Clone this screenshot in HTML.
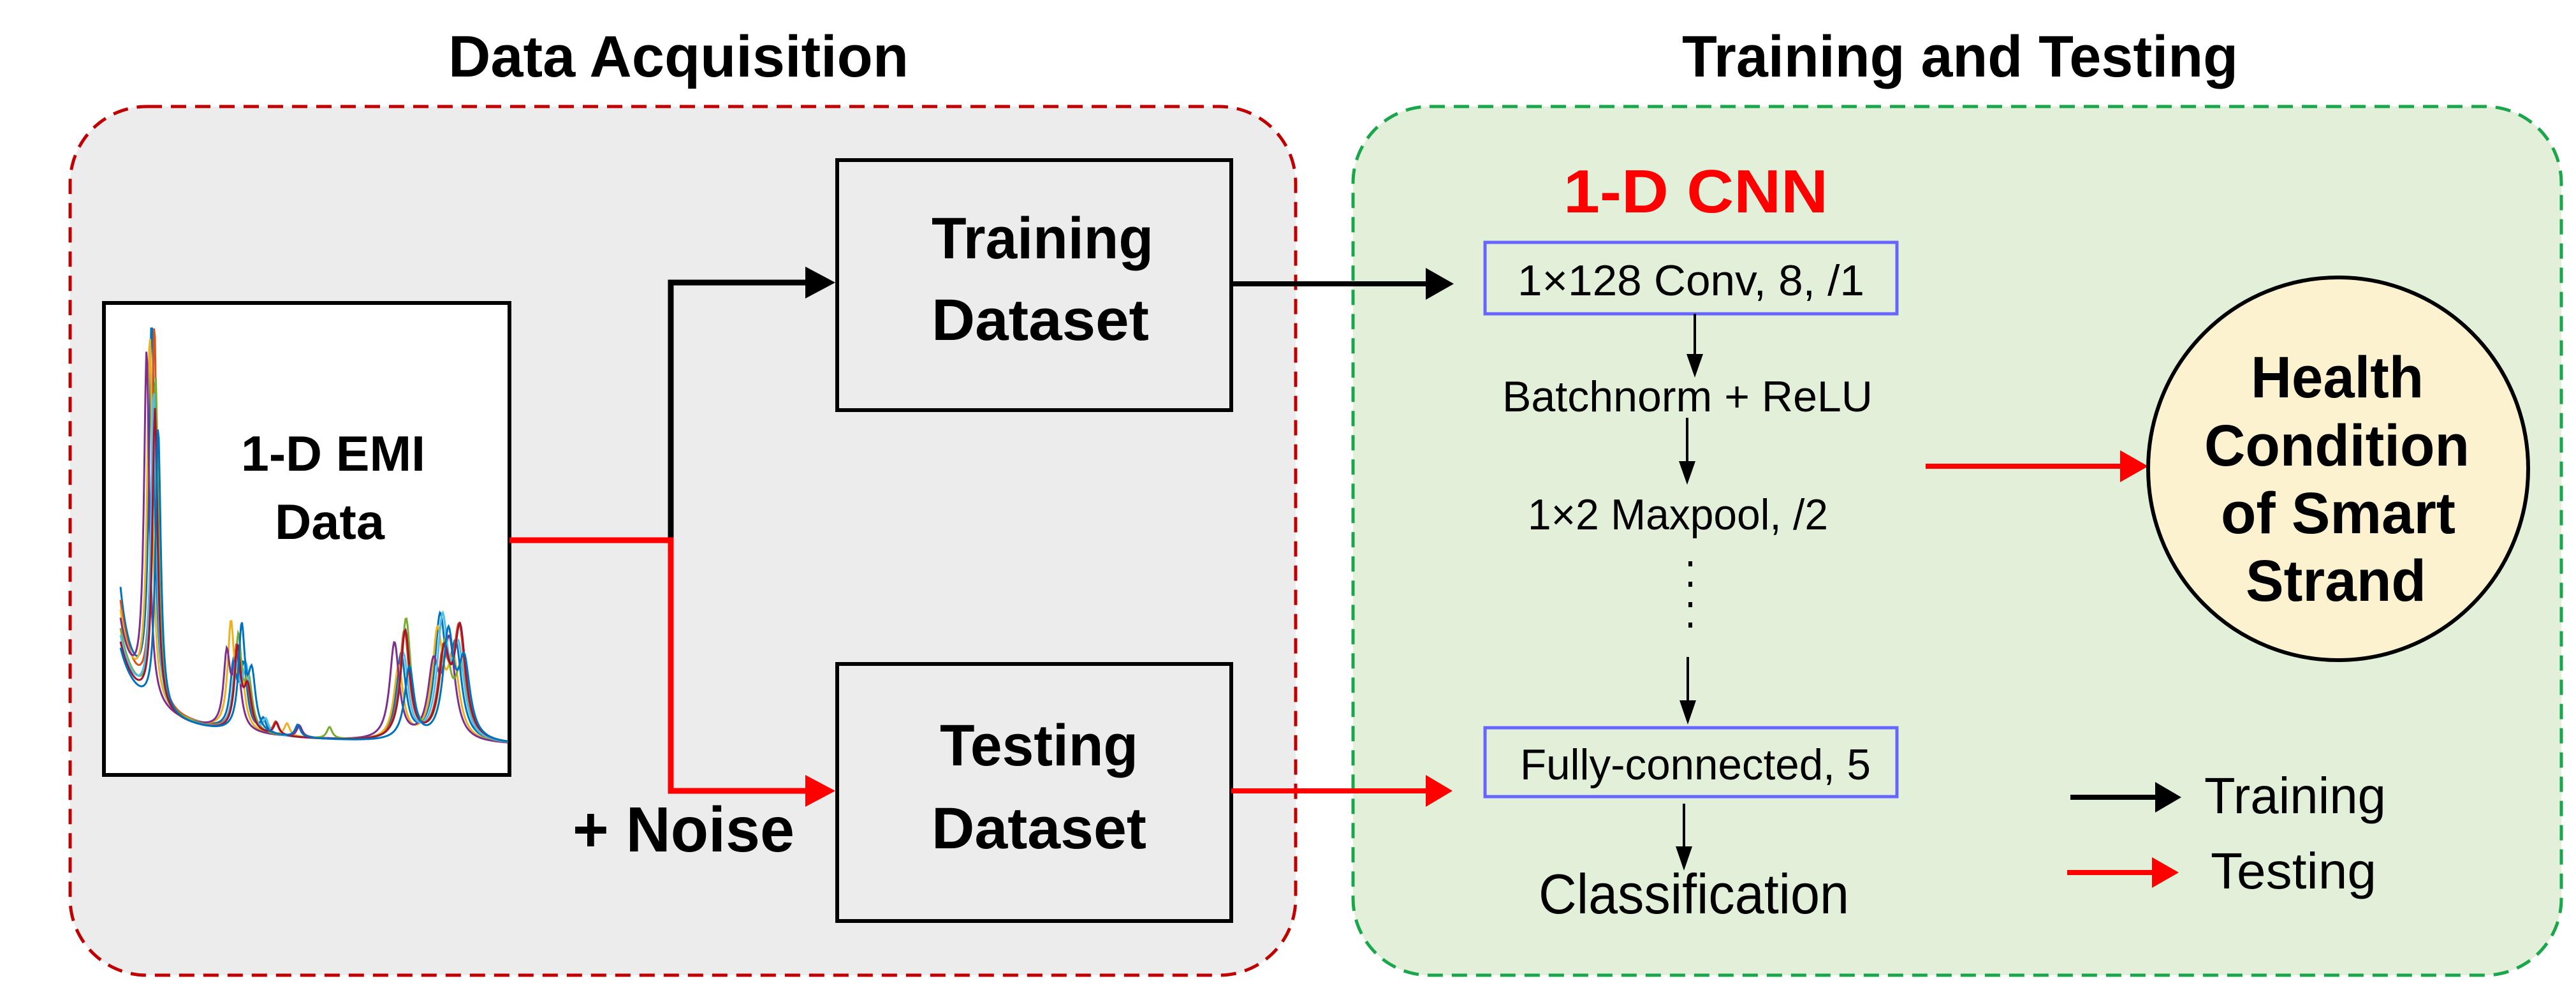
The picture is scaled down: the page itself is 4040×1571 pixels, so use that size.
<!DOCTYPE html>
<html><head><meta charset="utf-8"><style>
html,body{margin:0;padding:0;background:#fff}
svg{display:block}
text{font-family:"Liberation Sans",sans-serif}
.b{font-weight:bold}
</style></head><body>
<svg id="s" width="4040" height="1571" viewBox="0 0 4040 1571" xmlns="http://www.w3.org/2000/svg">
<rect x="110" y="167" width="1922" height="1362" rx="120" fill="#ececec" stroke="#c00000" stroke-width="5" stroke-dasharray="24,14"/>
<rect x="2122" y="167" width="1895" height="1362" rx="120" fill="#e2efd9" stroke="#1aa64a" stroke-width="5" stroke-dasharray="24,14"/>
<text class="b" x="703" y="120" font-size="92" textLength="722" lengthAdjust="spacingAndGlyphs">Data Acquisition</text>
<text class="b" x="2638" y="120" font-size="92" textLength="872" lengthAdjust="spacingAndGlyphs">Training and Testing</text>

<rect x="163" y="475" width="636" height="740" fill="#fff" stroke="#000" stroke-width="6"/>
<g id="curves" fill="none" stroke-width="3"></g>
<text class="b" x="378" y="738" font-size="78" textLength="289" lengthAdjust="spacingAndGlyphs">1-D EMI</text>
<text class="b" x="431" y="845" font-size="78" textLength="172" lengthAdjust="spacingAndGlyphs">Data</text>

<rect x="1313" y="251" width="618" height="392" fill="#ececec" stroke="#000" stroke-width="6"/>
<text class="b" x="1461" y="405" font-size="92" textLength="348" lengthAdjust="spacingAndGlyphs">Training</text>
<text class="b" x="1461" y="533" font-size="92" textLength="341" lengthAdjust="spacingAndGlyphs">Dataset</text>
<rect x="1313" y="1041" width="618" height="403" fill="#ececec" stroke="#000" stroke-width="6"/>
<text class="b" x="1474" y="1200" font-size="92" textLength="311" lengthAdjust="spacingAndGlyphs">Testing</text>
<text class="b" x="1461" y="1330" font-size="92" textLength="337" lengthAdjust="spacingAndGlyphs">Dataset</text>

<polyline points="1052,847 1052,443 1265,443" fill="none" stroke="#000" stroke-width="9"/>
<polygon points="1263,418 1310,443 1263,468" fill="#000"/>
<polyline points="799,847 1052,847 1052,1240 1265,1240" fill="none" stroke="#f00" stroke-width="9"/>
<polygon points="1263,1215 1310,1240 1263,1265" fill="#f00"/>
<text class="b" x="898" y="1335" font-size="100" textLength="348" lengthAdjust="spacingAndGlyphs">+ Noise</text>

<line x1="1931" y1="445" x2="2240" y2="445" stroke="#000" stroke-width="8"/>
<polygon points="2236,420 2280,445 2236,470" fill="#000"/>
<line x1="1931" y1="1240" x2="2240" y2="1240" stroke="#f00" stroke-width="8"/>
<polygon points="2236,1215 2278,1240 2236,1265" fill="#f00"/>

<text class="b" x="2452" y="333" font-size="96" fill="#f00" textLength="415" lengthAdjust="spacingAndGlyphs">1-D CNN</text>
<rect x="2329" y="380" width="646" height="112" fill="none" stroke="#6666ff" stroke-width="5"/>
<text x="2380" y="463" font-size="68" textLength="544" lengthAdjust="spacingAndGlyphs">1×128 Conv,  8, /1</text>
<line x1="2658" y1="492" x2="2658" y2="560" stroke="#000" stroke-width="4"/>
<polygon points="2645,555 2671,555 2658,592" fill="#000"/>
<text x="2356" y="645" font-size="68" textLength="581" lengthAdjust="spacingAndGlyphs">Batchnorm + ReLU</text>
<line x1="2646" y1="655" x2="2646" y2="728" stroke="#000" stroke-width="4"/>
<polygon points="2633,723 2659,723 2646,760" fill="#000"/>
<text x="2396" y="830" font-size="68" textLength="471" lengthAdjust="spacingAndGlyphs">1×2 Maxpool, /2</text>
<line x1="2651" y1="880" x2="2651" y2="992" stroke="#000" stroke-width="6" stroke-dasharray="8,24"/>
<line x1="2647" y1="1030" x2="2647" y2="1103" stroke="#000" stroke-width="4"/>
<polygon points="2634,1098 2660,1098 2647,1136" fill="#000"/>
<rect x="2329" y="1141" width="646" height="108" fill="none" stroke="#6666ff" stroke-width="5"/>
<text x="2384" y="1222" font-size="68" textLength="550" lengthAdjust="spacingAndGlyphs">Fully-connected, 5</text>
<line x1="2641" y1="1260" x2="2641" y2="1332" stroke="#000" stroke-width="4"/>
<polygon points="2628,1327 2654,1327 2641,1365" fill="#000"/>
<text x="2413" y="1432" font-size="88" textLength="487" lengthAdjust="spacingAndGlyphs">Classification</text>

<line x1="3020" y1="731" x2="3330" y2="731" stroke="#f00" stroke-width="8"/>
<polygon points="3325,706 3369,731 3325,756" fill="#f00"/>
<ellipse cx="3667" cy="735" rx="298" ry="300" fill="#fdf2cf" stroke="#000" stroke-width="6"/>
<text class="b" x="3530" y="623" font-size="92" textLength="271" lengthAdjust="spacingAndGlyphs">Health</text>
<text class="b" x="3457" y="730" font-size="92" textLength="416" lengthAdjust="spacingAndGlyphs">Condition</text>
<text class="b" x="3483" y="836" font-size="92" textLength="368" lengthAdjust="spacingAndGlyphs">of Smart</text>
<text class="b" x="3522" y="942" font-size="92" textLength="283" lengthAdjust="spacingAndGlyphs">Strand</text>

<line x1="3247" y1="1250" x2="3385" y2="1250" stroke="#000" stroke-width="8"/>
<polygon points="3380,1226 3421,1250 3380,1274" fill="#000"/>
<text x="3457" y="1275" font-size="80" textLength="285" lengthAdjust="spacingAndGlyphs">Training</text>
<line x1="3242" y1="1368" x2="3380" y2="1368" stroke="#f00" stroke-width="8"/>
<polygon points="3375,1344 3417,1368 3375,1392" fill="#f00"/>
<text x="3467" y="1393" font-size="80" textLength="260" lengthAdjust="spacingAndGlyphs">Testing</text>
</svg>
<script>
(function(){
var g=document.getElementById('curves');
var cols=['#0072bd','#d95319','#edb120','#7e2f8e','#77ac30','#4dbeee','#a2142f','#0072bd'];
var sh=[0,4,-3,-8,6,3,5,10];
var sets=[[366,160,6],[382,110,7],[413,30,5],[427,28,5],[454,28,5],[480,26,5],[509,26,5],[629,190,9],[690,180,10],[715,170,11]];
for(var k=0;k<8;k++){
  var d='';
  for(var x=189;x<=797;x+=1.5){
    var h=8+6000/(x-165+k*2);
    var x0=238+sh[k];
    h+=Math.max(0,(620-k*25)*25/((x-x0)*(x-x0)+25));
    for(var j=0;j<sets.length;j++){
      var p=sets[j];
      if(j>=2&&j<=6&&(k%5)!=(j-2))continue;
      var c=p[0]+sh[k]*1.3, a=p[1]*(0.6+0.4*((k*7+j*3)%5)/4);
      h+=a*p[2]*p[2]/((x-c)*(x-c)+p[2]*p[2]);
    }
    var y=1185-h; if(y<515)y=515;
    d+=(d?'L':'M')+x.toFixed(1)+','+y.toFixed(1);
  }
  var pth=document.createElementNS('http://www.w3.org/2000/svg','path');
  pth.setAttribute('d',d);pth.setAttribute('stroke',cols[k]);
  g.appendChild(pth);
}
})();
</script>
</body></html>
